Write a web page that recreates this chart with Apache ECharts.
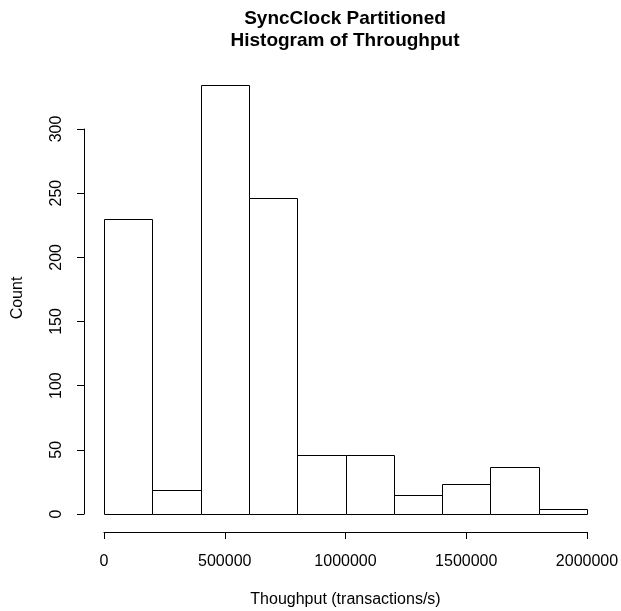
<!DOCTYPE html>
<html><head><meta charset="utf-8">
<script src="https://cdn.jsdelivr.net/npm/echarts@6/dist/echarts.min.js"></script>
<style>html,body{margin:0;padding:0;background:#fff}#c{width:621px;height:611px}</style>
</head><body><div id="c"></div>
<script>
const binEdges = [0,200000,400000,600000,800000,1000000,1200000,1400000,1600000,1800000,2000000];
const counts = [230,19,334,246,46,46,15,23,37,4];
const xTicks = [0,500000,1000000,1500000,2000000];
const yTicks = [0,50,100,150,200,250,300];
const titleLines = ['SyncClock Partitioned','Histogram of Throughput'];
const xLabel = 'Thoughput (transactions/s)';
const yLabel = 'Count';

const data = counts.map((c,i)=>[binEdges[i],binEdges[i+1],c]);
const FONT = 'Liberation Sans, Arial, Helvetica, sans-serif';
const chart = echarts.init(document.getElementById('c'), null, {renderer:'canvas'});
chart.setOption({
  animation:false,
  backgroundColor:'#fff',
  title:{text:titleLines.join('\n'), top:3, textAlign:'center', left:340,
    textStyle:{fontFamily:FONT,fontWeight:'bold',fontSize:19,lineHeight:22,color:'#000'}},
  grid:{left:104,right:34,top:129,bottom:97,containLabel:false,outerBoundsMode:'none'},
  xAxis:{type:'value',min:xTicks[0],max:xTicks[xTicks.length-1],interval:xTicks[1]-xTicks[0],
    offset:18,
    axisLine:{show:true,onZero:false,lineStyle:{color:'#000',width:1}},
    axisTick:{show:true,length:7,lineStyle:{color:'#000'}},
    axisLabel:{margin:22,fontFamily:FONT,fontSize:16,color:'#000',showMinLabel:true,showMaxLabel:true,
      formatter:v=>String(v)},
    splitLine:{show:false},
    name:xLabel,nameLocation:'middle',nameGap:60,
    nameTextStyle:{fontFamily:FONT,fontSize:16,color:'#000'}},
  yAxis:{type:'value',min:yTicks[0],max:yTicks[yTicks.length-1],interval:yTicks[1]-yTicks[0],
    offset:20,
    axisLine:{show:true,onZero:false,lineStyle:{color:'#000',width:1}},
    axisTick:{show:true,length:7,lineStyle:{color:'#000'}},
    axisLabel:{rotate:90,margin:19,fontFamily:FONT,fontSize:16,color:'#000',showMinLabel:true,showMaxLabel:true,
      formatter:v=>String(v)},
    splitLine:{show:false}},
  graphic:[{type:'text',rotation:Math.PI/2,x:18,y:298,
    style:{text:yLabel,font:'16px '+FONT,fill:'#000',align:'center',verticalAlign:'middle'}}],
  series:[{type:'custom',clip:false,data:data,
    renderItem(params,api){
      const p0=api.coord([api.value(0),0]);
      const p1=api.coord([api.value(1),api.value(2)]);
      const x0=Math.round(p0[0])+0.5,x1=Math.round(p1[0])+0.5;
      const y0=Math.round(p0[1])+0.5,y1=Math.round(p1[1])+0.5;
      return {type:'rect',shape:{x:x0,y:y1,width:x1-x0,height:y0-y1},
        style:{fill:'#fff',stroke:'#000',lineWidth:1}};
    }}]
});
</script></body></html>
